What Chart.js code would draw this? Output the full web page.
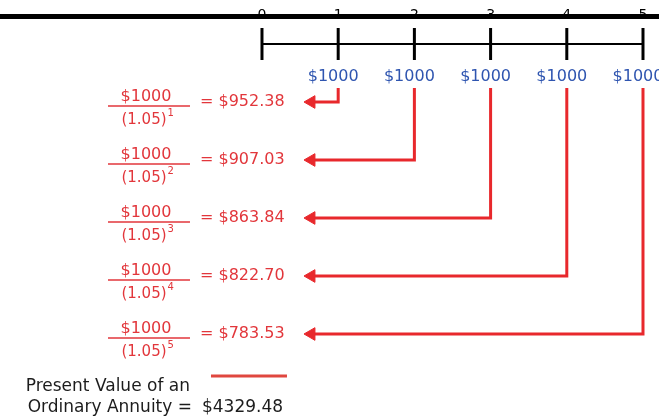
<!DOCTYPE html>
<html><head><meta charset="utf-8">
<script src="https://cdn.jsdelivr.net/npm/chart.js@4"></script>
<style>html,body{margin:0;padding:0;background:#fff}canvas{display:block}</style>
</head><body>
<canvas id="c" width="659" height="418"></canvas>
<script>
// ---- data ----
const periods = [0, 1, 2, 3, 4, 5];
const periodLabels = ['0', '1', '2', '3', '4', '5'];
const paymentPeriods = [1, 2, 3, 4, 5];
const payments = [1000, 1000, 1000, 1000, 1000];
const growthFactor = '1.05';
const presentValues = [952.38, 907.03, 863.84, 822.70, 783.53];
const totalPresentValue = 4329.48;
const totalLabels = ['Present Value of an', 'Ordinary Annuity ='];

// ---- layout / style ----
const RED = '#e2363b', ARROW = '#e8282c', BLUE = '#2f55b0', INK = '#1c1c1c';
const X_MIN = -3.438, X_MAX = 5.21, Y_MIN = -0.7586, Y_MAX = 6.4483;
const ARROW_START = 0.76, ARROW_TIP = 0.647, TOP_BAR = -0.474, LABEL_ROW = 0.569;
const FONT = '"DejaVu Sans", Verdana, sans-serif';

const datasets = [];
datasets.push({ data: [{x: X_MIN, y: TOP_BAR}, {x: X_MAX, y: TOP_BAR}], borderColor: '#000', borderWidth: 5, pointRadius: 0, showLine: true });
datasets.push({ data: [{x: periods[0], y: 0}, {x: periods[periods.length - 1], y: 0}], borderColor: '#000', borderWidth: 2, pointRadius: 0, showLine: true });
datasets.push({ data: periods.map(p => ({x: p, y: 0})), showLine: false, pointStyle: 'line', pointRadius: 16, pointRotation: 90, pointBorderWidth: 3, pointBorderColor: '#000', pointBackgroundColor: '#000' });
paymentPeriods.forEach((p, i) => {
  datasets.push({
    data: [{x: p, y: ARROW_START}, {x: p, y: i + 1}, {x: ARROW_TIP, y: i + 1}],
    showLine: true, borderColor: ARROW, borderWidth: 3, borderJoinStyle: 'miter', tension: 0,
    pointRadius: [0, 0, 7.3], pointStyle: 'triangle', pointRotation: 270,
    pointBackgroundColor: ARROW, pointBorderColor: ARROW, pointBorderWidth: 1
  });
});

const textPlugin = {
  id: 'annuityText',
  beforeDatasetsDraw(chart) {
    const {ctx, scales: {x, y}} = chart;
    ctx.save();
    ctx.font = '14px ' + FONT; ctx.fillStyle = '#000';
    ctx.textAlign = 'center'; ctx.textBaseline = 'middle';
    periods.forEach((p, i) => ctx.fillText(periodLabels[i], x.getPixelForValue(p), y.getPixelForValue(TOP_BAR) - 1));
    ctx.restore();
  },
  afterDatasetsDraw(chart) {
    const {ctx, scales: {x, y}} = chart;
    const ox = x.getPixelForValue(0);
    ctx.save();
    ctx.textBaseline = 'middle';
    // payments on the timeline
    ctx.font = '16px ' + FONT; ctx.fillStyle = BLUE; ctx.textAlign = 'center';
    paymentPeriods.forEach((p, i) => ctx.fillText('$' + payments[i], x.getPixelForValue(p) - 5, y.getPixelForValue(LABEL_ROW)));
    // discount fractions
    paymentPeriods.forEach((p, i) => {
      const ry = y.getPixelForValue(i + 1);
      const cx = ox - 116;
      ctx.fillStyle = RED; ctx.strokeStyle = RED;
      ctx.font = '16px ' + FONT; ctx.textAlign = 'center';
      ctx.fillText('$' + payments[i], cx, ry - 5);
      ctx.lineWidth = 1.5;
      ctx.beginPath(); ctx.moveTo(ox - 154, ry + 4); ctx.lineTo(ox - 72, ry + 4); ctx.stroke();
      const den = '(' + growthFactor + ')';
      ctx.font = '15px ' + FONT;
      ctx.fillText(den, cx - 2, ry + 18);
      const w = ctx.measureText(den).width;
      ctx.font = '10px ' + FONT; ctx.textAlign = 'left';
      ctx.fillText(String(p), cx - 2 + w / 2 + 1, ry + 11);
      ctx.font = '16px ' + FONT;
      ctx.fillText('= $' + presentValues[i].toFixed(2), ox - 62, ry);
    });
    // total
    const ty = y.getPixelForValue(6);
    ctx.strokeStyle = '#e0473f'; ctx.lineWidth = 3;
    ctx.beginPath(); ctx.moveTo(ox - 51, ty - 16); ctx.lineTo(ox + 25, ty - 16); ctx.stroke();
    ctx.font = '17px ' + FONT; ctx.fillStyle = INK; ctx.textAlign = 'right';
    ctx.fillText(totalLabels[0], ox - 72, ty - 5);
    ctx.fillText(totalLabels[1], ox - 70, ty + 16);
    ctx.textAlign = 'left';
    ctx.fillText('$' + totalPresentValue.toFixed(2), ox - 60, ty + 16);
    ctx.restore();
  }
};

new Chart(document.getElementById('c'), {
  type: 'scatter',
  data: { datasets },
  options: {
    responsive: false, animation: false, devicePixelRatio: 1,
    layout: { padding: 0, autoPadding: false },
    plugins: { legend: { display: false }, tooltip: { enabled: false } },
    scales: {
      x: { type: 'linear', display: false, min: X_MIN, max: X_MAX },
      y: { type: 'linear', display: false, reverse: true, min: Y_MIN, max: Y_MAX }
    }
  },
  plugins: [textPlugin]
});
</script>
</body></html>
